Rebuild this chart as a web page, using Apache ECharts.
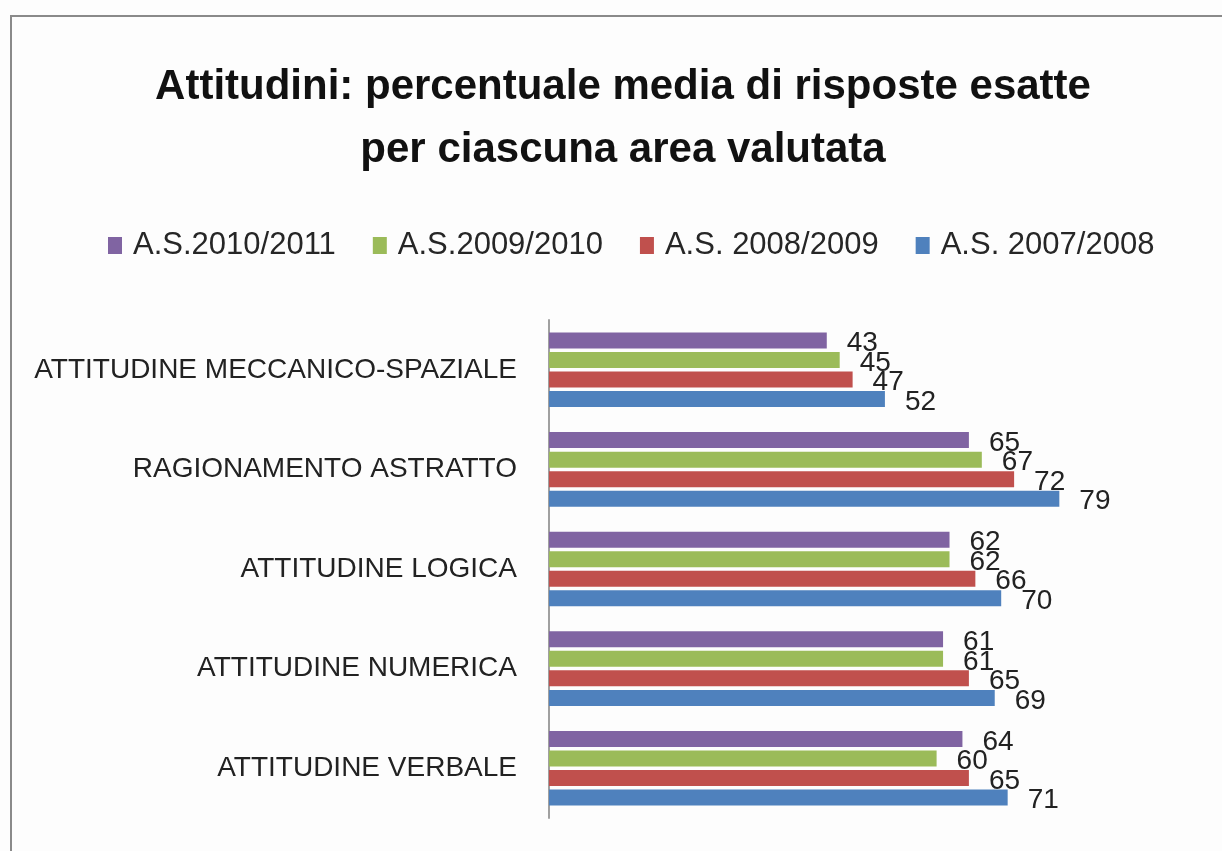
<!DOCTYPE html>
<html>
<head>
<meta charset="utf-8">
<script src="https://cdn.jsdelivr.net/npm/echarts@6/dist/echarts.min.js"></script>
<style>
html,body{margin:0;padding:0;background:#fdfdfd;}
#chart{width:1222px;height:851px;}
</style>
</head>
<body>
<div id="chart"></div>
<script>
const categories = ['ATTITUDINE MECCANICO-SPAZIALE','RAGIONAMENTO ASTRATTO','ATTITUDINE LOGICA','ATTITUDINE NUMERICA','ATTITUDINE VERBALE'];
const seriesNames = ['A.S.2010/2011','A.S.2009/2010','A.S. 2008/2009','A.S. 2007/2008'];
const as2010_2011 = [43, 65, 62, 61, 64];
const as2009_2010 = [45, 67, 62, 61, 60];
const as2008_2009 = [47, 72, 66, 65, 65];
const as2007_2008 = [52, 79, 70, 69, 71];
const colors = ['#8064A2','#9BBB59','#C0504D','#4F81BD'];

const values = [as2010_2011, as2009_2010, as2008_2009, as2007_2008];
const FONT = '"Liberation Sans", Arial, sans-serif';

const chart = echarts.init(document.getElementById('chart'));
chart.setOption({
  backgroundColor: '#fdfdfd',
  animation: false,
  graphic: [{
    type: 'polyline',
    shape: { points: [[11, 851], [11, 16], [1222, 16]] },
    style: { stroke: '#8a8a8a', lineWidth: 2, fill: null }
  }],
  title: {
    text: 'Attitudini: percentuale media di risposte esatte\nper ciascuna area valutata',
    left: 618, textAlign: 'center', top: 51,
    textStyle: { fontFamily: FONT, fontWeight: 'bold', fontSize: 42, lineHeight: 63, color: '#111' }
  },
  legend: {
    data: seriesNames,
    left: 103, top: 225,
    itemWidth: 14, itemHeight: 17, itemGap: 37,
    icon: 'rect',
    textStyle: { fontFamily: FONT, fontSize: 31, color: '#262626', padding: [0, 0, 0, 6] }
  },
  grid: { left: 549, right: 27, top: 320, bottom: 33, outerBoundsMode: 'none' },
  xAxis: {
    type: 'value', min: 0, max: 100, show: false
  },
  yAxis: {
    type: 'category', data: categories, inverse: true,
    axisLine: { show: true, lineStyle: { color: '#a0a0a0', width: 2 } },
    axisTick: { show: false },
    axisLabel: { fontFamily: FONT, fontSize: 28, color: '#222', margin: 32 }
  },
  series: values.map((v, i) => ({
    name: seriesNames[i],
    type: 'bar',
    data: v,
    barWidth: 16,
    barGap: '22%',
    itemStyle: { color: colors[i] },
    label: {
      show: true, position: 'right', distance: 20, offset: [0, 3],
      fontFamily: FONT, fontSize: 28, color: '#222'
    }
  }))
});
</script>
</body>
</html>
